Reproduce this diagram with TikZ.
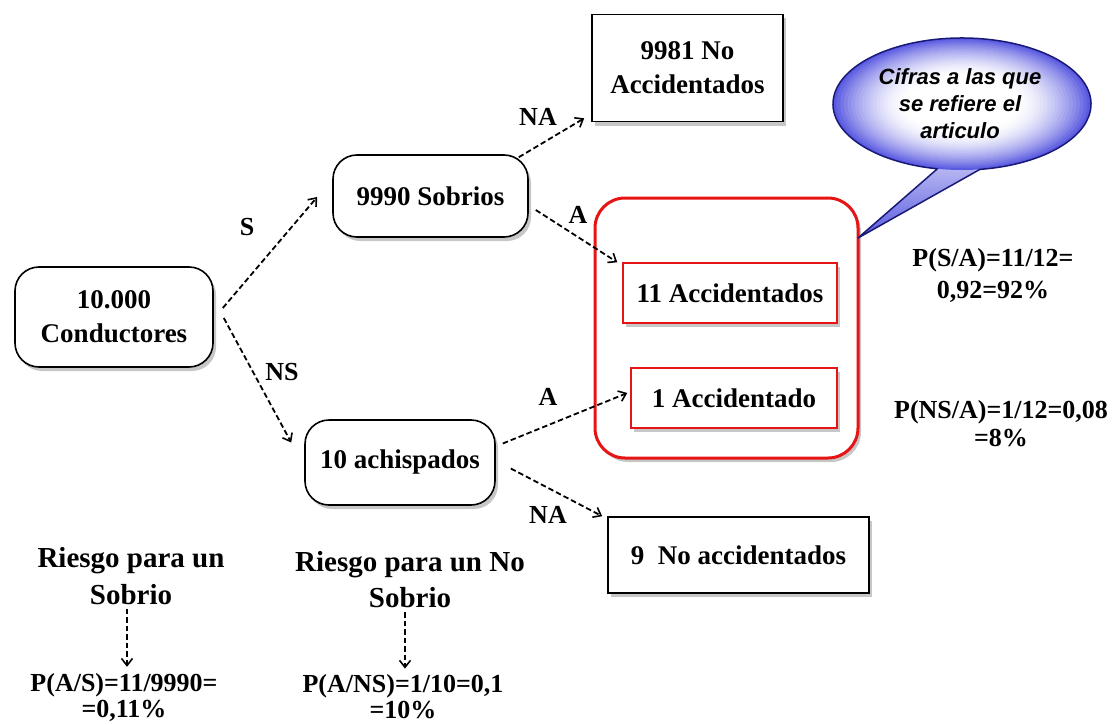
\documentclass[tikz,border=0pt]{standalone}
\usepackage{fontspec}
\setmainfont{Liberation Serif}
\newfontfamily\calloutfont{Liberation Sans}
\usetikzlibrary{shadows,calc,arrows.meta}
\newcommand\fsz[2]{\fontsize{#1}{#2}\selectfont}
\definecolor{cblue}{RGB}{90,90,225}
\definecolor{cnavy}{RGB}{25,25,120}
\definecolor{rred}{RGB}{230,20,20}
\begin{document}
\begin{tikzpicture}[x=1pt,y=-1pt,
  shad/.style={drop shadow={shadow xshift=3pt,shadow yshift=-4pt,opacity=0.22,fill=black}},
  rbox/.style={draw=black,line width=1.6pt,rounded corners=24pt,fill=white,shad,align=center,font=\fsz{27}{34}\bfseries,inner sep=0pt},
  sbox/.style={draw=black,line width=1.6pt,fill=white,shad,align=center,font=\fsz{27}{34}\bfseries,inner sep=0pt},
  redbig/.style={draw=rred,line width=3pt,rounded corners=30pt,fill=white,shad,inner sep=0pt},
  redsm/.style={draw=rred,line width=1.4pt,fill=white,shad,font=\fsz{27}{34}\bfseries,inner sep=0pt},
  lbl/.style={font=\fsz{26}{30}\bfseries,inner sep=0pt},
  txt/.style={align=center,font=\bfseries,inner sep=0pt},
  arr/.style={draw=black,line width=1.8pt,dash pattern=on 5.5pt off 3pt,-{Straight Barb[length=7pt,width=11pt,line width=1.6pt]}}
]
\useasboundingbox (0,0) rectangle (1119,725);

% main tree
\node[rbox,minimum width=198pt,minimum height=100pt] (cond) at (114,317) {10.000\\Conductores};
\node[rbox,minimum width=195pt,minimum height=82pt] (sob) at (430.5,196) {9990 Sobrios};
\node[rbox,minimum width=190pt,minimum height=85pt] (ach) at (400,462.5) {10 achispados};
\node[sbox,minimum width=191pt,minimum height=107pt] (na1) at (687.5,68) {9981 No\\Accidentados};
\node[sbox,minimum width=261pt,minimum height=76pt] (na2) at (738.5,555) {9~~No accidentados};
\node[redbig,minimum width=263pt,minimum height=260pt] (grp) at (726.5,328) {};
\node[redsm,minimum width=214pt,minimum height=60pt] (acc11) at (730,293) {11 Accidentados};
\node[redsm,minimum width=206pt,minimum height=60pt] (acc1) at (734,398) {1 Accidentado};

% connectors
\draw[arr] ($(cond.east)+(9,-9)$) -- ($(sob.west)+(-15,1)$);
\draw[arr] ($(cond.east)+(10,1)$) -- ($(ach.west)+(-13,-20)$);
\draw[arr] ($(sob.north east)+(-10,3)$) -- ($(na1.south west)+(-7,-4)$);
\draw[arr] ($(sob.east)+(7,14)$) -- ($(acc11.north west)+(-5,0)$);
\draw[arr] ($(ach.east)+(7,-19)$) -- ($(acc1.west)+(-3,-5)$);
\draw[arr] ($(ach.east)+(15,6)$) -- ($(na2.north west)+(-5,0)$);

% edge labels
\node[lbl] (lS) at (247,227) {S};
\node[lbl] (lNS) at (282,372) {NS};
\node[lbl] (lNA1) at (538,117) {NA};
\node[lbl] (lA1) at (578,215) {A};
\node[lbl] (lA2) at (548,397) {A};
\node[lbl] (lNA2) at (548,515) {NA};

% callout
\coordinate (cc) at (962,104);
\coordinate (tip) at (858,238);
\shade[top color=cblue!45,bottom color=cblue] ($(cc)+(101:129 and 66)$) -- (tip) -- ($(cc)+(82:129 and 66)$) -- cycle;
\foreach \i in {0,...,26} {
  \pgfmathsetmacro\rr{1-\i*0.028}
  \pgfmathsetmacro\pp{100*(max(0,(\rr-0.42)/0.58))^1.7}
  \fill[cblue!\pp!white] (cc) ellipse [x radius=129*\rr, y radius=66*\rr];
}
\draw[cnavy,line width=1.5pt,line join=round] ($(cc)+(101:129 and 66)$) arc[start angle=101,end angle=442,x radius=129,y radius=66] -- (tip) -- cycle;
\node[align=center,inner sep=0pt,font=\calloutfont\bfseries\itshape\fsz{22}{27}] (ctext) at (960,104) {Cifras a las que\\se refiere el\\articulo};

% right formulas
\node[txt,font=\fsz{26}{32}\bfseries] (psa) at (993,275) {P(S/A)=11/12=\\0,92=92\%};
\node[txt,font=\fsz{26}{28}\bfseries] (pnsa) at (1001,424) {P(NS/A)=1/12=0,08\\=8\%};

% bottom
\node[txt,font=\fsz{29}{37}\bfseries] (r1) at (131,576) {Riesgo para un\\Sobrio};
\node[txt,font=\fsz{26}{26}\bfseries] (p1) at (124,697) {P(A/S)=11/9990=\\=0,11\%};
\node[txt,font=\fsz{29}{36}\bfseries] (r2) at (410,580) {Riesgo para un No\\Sobrio};
\node[txt,font=\fsz{26}{26}\bfseries] (p2) at (403,697) {P(A/NS)=1/10=0,1\\=10\%};
\draw[arr] ($(r1.south)+(-4,4)$) -- ($(p1.north)+(3,-6)$);
\draw[arr] ($(r2.south)+(-5,4)$) -- ($(p2.north)+(2,-6)$);
\end{tikzpicture}
\end{document}
